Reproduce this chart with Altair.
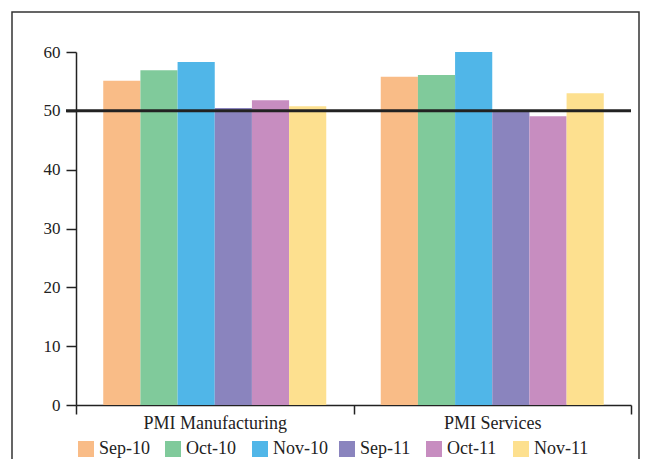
import altair as alt
import pandas as pd

categories = ["PMI Manufacturing", "PMI Services"]
months = ["Sep-10", "Oct-10", "Nov-10", "Sep-11", "Oct-11", "Nov-11"]
manufacturing = [55.1, 56.9, 58.3, 50.5, 51.8, 50.8]
services = [55.8, 56.1, 60.0, 49.9, 49.1, 53.0]
colors = ["#F9BC87", "#80CA9B", "#50B6E8", "#8A84BE", "#C78DC0", "#FDE08F"]
threshold = [50]
y_ticks = [0, 10, 20, 30, 40, 50, 60]

rows = []
for cat, vals in zip(categories, [manufacturing, services]):
    for m, v in zip(months, vals):
        rows.append({"category": cat, "month": m, "value": v})
df = pd.DataFrame(rows)
thr = pd.DataFrame({"y": threshold})

W, H = 555, 353
FONT = "Liberation Serif"

bars = alt.Chart(df).mark_bar(strokeWidth=0).encode(
    x=alt.X("category:N", sort=categories,
            scale=alt.Scale(paddingInner=0, paddingOuter=0),
            axis=alt.Axis(title=None, labelAngle=0, tickBand="extent",
                          tickSize=9, labelPadding=0, labelFontSize=18)),
    xOffset=alt.XOffset("month:N", sort=months,
                        scale=alt.Scale(paddingInner=0, paddingOuter=0.733)),
    y=alt.Y("value:Q", scale=alt.Scale(domain=[0, 60], nice=False),
            axis=alt.Axis(title=None, values=y_ticks, grid=False,
                          tickSize=10, labelPadding=6)),
    color=alt.Color("month:N", sort=months,
                    scale=alt.Scale(domain=months, range=colors),
                    legend=alt.Legend(title=None, orient="none", legendX=1, legendY=388,
                                      direction="horizontal", columns=6, gridAlign="all",
                                      symbolType="square", symbolSize=256,
                                      symbolStrokeWidth=0, symbolOpacity=1,
                                      labelFont=FONT, labelFontSize=18,
                                      labelColor="#222", columnPadding=10,
                                      padding=0, labelOffset=4)),
)

line = alt.Chart(thr).mark_rule(color="#222", strokeWidth=3).encode(
    y="y:Q", x=alt.value(-10), x2=alt.value(W)
)

frame = alt.Chart(thr).mark_rect(fill=None, stroke="#333", strokeWidth=1.5).encode(
    x=alt.value(-64), x2=alt.value(563), y=alt.value(-40), y2=alt.value(430)
)

chart = alt.layer(frame, bars, line).properties(
    width=W, height=H,
    autosize=alt.AutoSizeParams(type="none"),
    padding={"left": 68, "top": 44, "right": 9, "bottom": 54},
).configure_view(stroke=None).configure_axis(
    domainColor="#222", domainWidth=1.5, tickColor="#222", tickWidth=1.5,
    labelFont=FONT, labelFontSize=17, labelColor="#222",
)

chart.save("out.html", embed_options={"renderer": "svg", "actions": False})
